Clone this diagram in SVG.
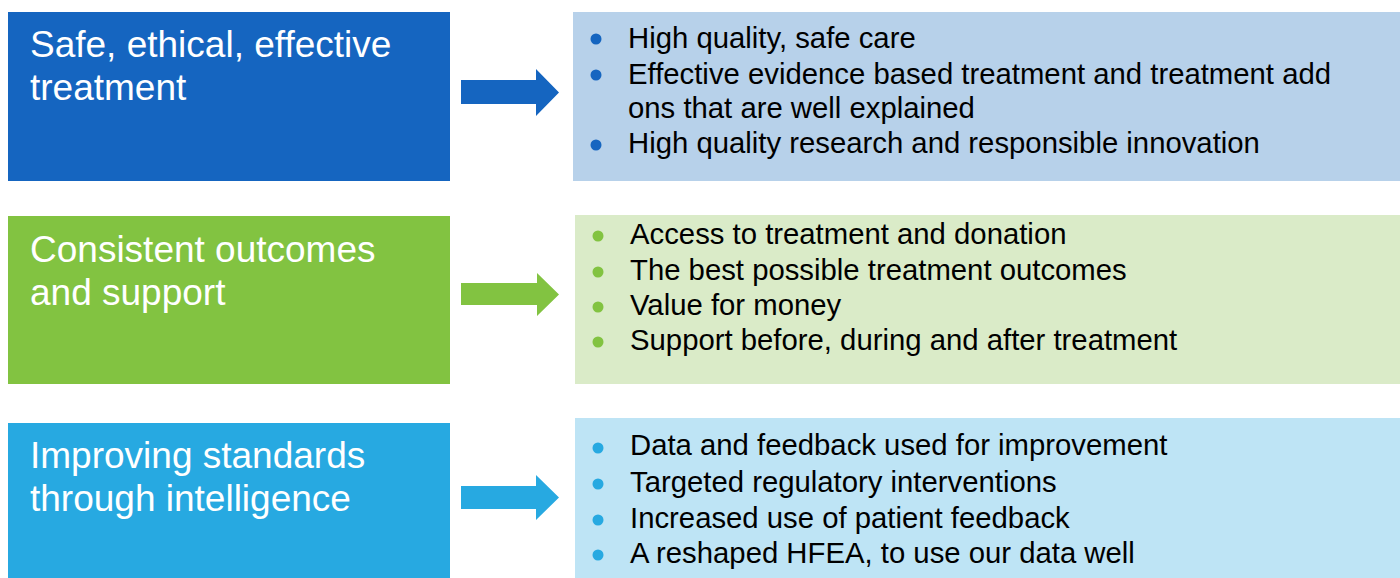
<svg xmlns="http://www.w3.org/2000/svg" width="1400" height="578" viewBox="0 0 1400 578">
<defs>
<style>
.title{font-family:"Liberation Sans",Arial,sans-serif;font-size:37px;fill:#ffffff}
.item{font-family:"Liberation Sans",Arial,sans-serif;font-size:29.3px;fill:#000000}
</style>
</defs>
<rect width="1400" height="578" fill="#ffffff"/>
<g id="node-safe">
<rect x="8" y="12" width="442" height="169" fill="#1565C0"/>
<text class="title" x="30" y="57">Safe, ethical, effective</text>
<text class="title" x="30" y="100">treatment</text>
</g>
<g id="node-safe-items">
<rect x="573" y="12" width="827" height="169" fill="#B7D1EA"/>
<g fill="#1565C0"><circle cx="596" cy="39" r="5.5"/><circle cx="596" cy="75" r="5.5"/><circle cx="596" cy="145" r="5.5"/></g>
<text class="item" x="628" y="48">High quality, safe care</text>
<text class="item" x="628" y="84">Effective evidence based treatment and treatment add</text>
<text class="item" x="628" y="118">ons that are well explained</text>
<text class="item" x="628" y="153">High quality research and responsible innovation</text>
</g>
<g id="node-consistent">
<rect x="8" y="216" width="442" height="168" fill="#82C341"/>
<text class="title" x="30" y="262">Consistent outcomes</text>
<text class="title" x="30" y="305">and support</text>
</g>
<g id="node-consistent-items">
<rect x="575" y="215" width="825" height="169" fill="#DAEBC8"/>
<g fill="#82C341"><circle cx="598" cy="236" r="5.5"/><circle cx="598" cy="272" r="5.5"/><circle cx="598" cy="307" r="5.5"/><circle cx="598" cy="342" r="5.5"/></g>
<text class="item" x="630" y="244">Access to treatment and donation</text>
<text class="item" x="630" y="280">The best possible treatment outcomes</text>
<text class="item" x="630" y="315">Value for money</text>
<text class="item" x="630" y="350">Support before, during and after treatment</text>
</g>
<g id="node-improving">
<rect x="8" y="423" width="442" height="155" fill="#27A9E1"/>
<text class="title" x="30" y="468">Improving standards</text>
<text class="title" x="30" y="511">through intelligence</text>
</g>
<g id="node-improving-items">
<rect x="575" y="418" width="825" height="160" fill="#BEE4F5"/>
<g fill="#27A9E1"><circle cx="598" cy="448" r="5.5"/><circle cx="598" cy="484" r="5.5"/><circle cx="598" cy="520" r="5.5"/><circle cx="598" cy="555" r="5.5"/></g>
<text class="item" x="630" y="455">Data and feedback used for improvement</text>
<text class="item" x="630" y="492">Targeted regulatory interventions</text>
<text class="item" x="630" y="528">Increased use of patient feedback</text>
<text class="item" x="630" y="563">A reshaped HFEA, to use our data well</text>
</g>
<g id="connectors">
<polygon points="461,80 536,80 536,69 559,92.5 536,116 536,104 461,104" fill="#1565C0"/>
<polygon points="461,283 537,283 537,273 559,294.5 537,316 537,305 461,305" fill="#82C341"/>
<polygon points="461,486 536,486 536,475 559,497.5 536,520 536,509 461,509" fill="#27A9E1"/>
</g>
</svg>
